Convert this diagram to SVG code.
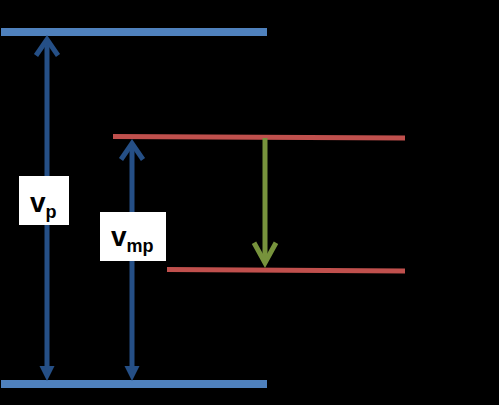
<svg xmlns="http://www.w3.org/2000/svg" width="499" height="405" viewBox="0 0 499 405">
<defs>
<style>
.lvlB{stroke:#4f81bd;stroke-width:8;fill:none}
.lvlR{stroke:#c0504d;stroke-width:5;fill:none}
.arrB{stroke:#254f86;stroke-width:5;fill:none}
.arrG{stroke:#77933c;stroke-width:5;fill:none}
.box{fill:#ffffff}
.lbl{font-family:"Liberation Sans",Arial,sans-serif;font-weight:bold;fill:#000000}
</style>
<marker id="chevB" viewBox="0 0 30 30" refX="19.5" refY="15" markerWidth="30" markerHeight="30" orient="auto-start-reverse" markerUnits="userSpaceOnUse">
<path d="M4,4 L20,15 L4,26" fill="none" stroke="#254f86" stroke-width="5" stroke-linejoin="miter"/>
</marker>
<marker id="triB" viewBox="0 0 30 30" refX="4" refY="15" markerWidth="30" markerHeight="30" orient="auto" markerUnits="userSpaceOnUse">
<path d="M0,7.5 L15,15 L0,22.5 Z" fill="#254f86"/>
</marker>
<marker id="chevG" viewBox="0 0 30 30" refX="22.2" refY="15" markerWidth="30" markerHeight="30" orient="auto" markerUnits="userSpaceOnUse">
<path d="M2,4 L22,15 L2,26" fill="none" stroke="#77933c" stroke-width="5" stroke-linejoin="miter"/>
</marker>
</defs>
<rect width="499" height="405" fill="#000000"/>
<g id="level-top"><line class="lvlB" x1="1" y1="32" x2="267" y2="32"/></g>
<g id="level-bottom"><line class="lvlB" x1="1" y1="384" x2="267" y2="384"/></g>
<g id="level-upper"><line class="lvlR" x1="113" y1="136.5" x2="405" y2="138"/></g>
<g id="level-lower"><line class="lvlR" x1="167" y1="269.5" x2="405" y2="271"/></g>
<g id="connectors">
<line class="arrB" x1="47" y1="40" x2="47" y2="370" marker-start="url(#chevB)" marker-end="url(#triB)"/>
<line class="arrB" x1="132" y1="144" x2="132" y2="370" marker-start="url(#chevB)" marker-end="url(#triB)"/>
<line class="arrG" x1="265" y1="138" x2="265" y2="263" marker-end="url(#chevG)"/>
</g>
<g id="label-vp">
<rect class="box" x="19" y="176" width="50" height="49"/>
<text class="lbl" x="30" y="212" font-size="28">v<tspan font-size="18" dy="6">p</tspan></text>
</g>
<g id="label-vmp">
<rect class="box" x="100" y="212" width="66" height="49"/>
<text class="lbl" x="111" y="246" font-size="28">v<tspan font-size="18" dy="6">mp</tspan></text>
</g>
</svg>
